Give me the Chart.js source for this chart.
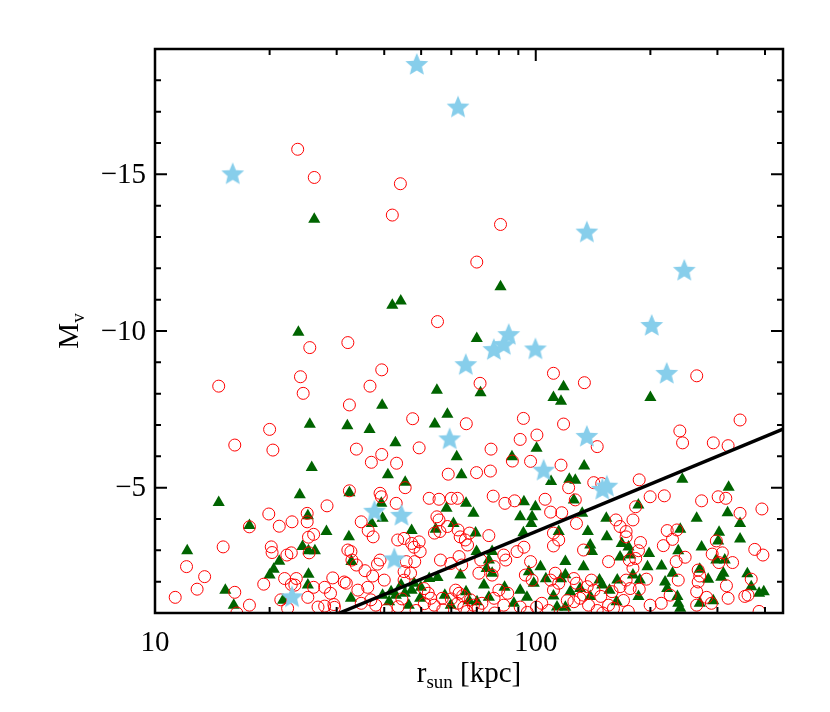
<!DOCTYPE html>
<html><head><meta charset="utf-8">
<script src="https://cdn.jsdelivr.net/npm/chart.js@4/dist/chart.umd.min.js"></script>
<style>html,body{margin:0;padding:0;background:#fff}</style>
</head><body>
<canvas id="c" width="830" height="712"></canvas>
<script>
// ---- data: [r_sun (kpc), M_V] ----
const circles = [
[23.7,-15.8],[26.2,-14.9],[44.1,-14.7],[42.0,-13.7],[80.8,-13.4],[70.0,-12.2],[55.2,-10.3],[32.1,-9.63],[25.5,-9.47],[39.4,-8.76],
[24.1,-8.54],[14.7,-8.24],[36.7,-8.24],[24.5,-8.01],[32.4,-7.64],[47.5,-7.20],[20.0,-6.86],[16.2,-6.36],[20.4,-6.20],[33.8,-6.23],
[39.4,-6.06],[49.4,-6.27],[37.0,-5.81],[43.1,-5.78],[45.4,-5.0],[32.4,-4.9],
[111.3,-8.65],[71.4,-8.33],[134.2,-8.35],[264.7,-8.57],[65.7,-7.04],[92.8,-7.21],[118.3,-7.03],[344,-7.16],[239,-6.81],[243,-6.43],
[292.6,-6.43],[320,-6.34],[91.0,-6.54],[100.7,-6.68],[76.3,-6.23],[145,-6.31],[116.5,-5.72],[96.9,-5.84],[76.0,-5.53],[69.9,-5.48],
[58.9,-5.43],[86.8,-5.85],[142,-5.16],[186.9,-5.25],[122,-5.0],[199.7,-4.71],[217.6,-4.74],[149,-5.13],
[19.9,-4.16],[21.2,-3.77],[22.9,-3.91],[25.1,-3.91],[17.7,-3.75],[25.1,-4.18],[26.1,-3.51],[25.3,-3.42],[15.1,-3.11],[20.2,-3.11],
[20.3,-2.93],[22.2,-2.85],[22.8,-2.92],[25.4,-2.92],[12.1,-2.48],[13.5,-2.16],[12.9,-1.76],[11.3,-1.50],[16.2,-1.66],[17.7,-1.25],
[19.3,-1.92],[21.9,-2.10],[23.5,-2.10],[23.3,-1.89],[22.8,-1.91],[26.1,-1.82],[25.2,-1.50],[21.4,-1.42],[22.3,-1.15],[16.4,-1.0],
[28.3,-4.42],[29.3,-2.12],[28.9,-1.63],[27.9,-1.22],[29.6,-1.18],[31.8,-1.95],[32.1,-3.01],[34.8,-3.91],[37.4,-3.43],[36.3,-3.63],
[39.3,-4.71],[39.0,-4.82],[43.0,-4.50],
[52.5,-4.66],[55.7,-4.63],[60.0,-4.66],[62.3,-4.66],[55.7,-3.97],[55.0,-4.07],[43.4,-3.33],[45.1,-3.38],[47.2,-3.22],[49.4,-3.27],
[49.7,-2.96],[47.9,-3.10],[54.2,-3.55],[56.0,-3.60],[58.6,-3.76],[62.5,-3.65],[63.3,-3.43],[65.3,-3.33],[66.2,-3.17],[67.0,-3.55],
[32.7,-2.96],[32.9,-2.69],[33.8,-2.53],[35.6,-2.35],[37.3,-2.18],[38.4,-2.56],[39.0,-2.69],[45.7,-2.64],[45.1,-2.32],[46.9,-2.27],
[48.1,-2.64],[56.2,-2.69],[59.8,-2.58],[62.9,-2.80],[63.9,-2.53],[31.4,-1.99],[34.1,-1.73],[36.2,-1.82],[40.0,-2.05],[27.9,-1.82],
[36.9,-1.42],[34.8,-1.31],[45.1,-2.05],[50.9,-1.78],[52.2,-1.63],[53.0,-1.47],[54.1,-1.25],[56.8,-1.47],[61.6,-1.73],[62.9,-1.63],
[64.3,-1.55],[67.4,-1.42],[68.6,-1.25],[62.3,-1.31],[64.7,-1.18],[26.8,-1.19],[29.5,-1.27],
[40.5,-1.10],[43.5,-1.20],[48.5,-1.08],[51.0,-1.30],[57.0,-1.10],[60.0,-1.45],[66.0,-1.05],[70.5,-1.15],[44.5,-1.45],[38.0,-1.25],
[77.3,-4.73],[83.0,-4.50],[88.0,-4.58],[105.8,-4.63],[127.0,-4.61],[109.4,-4.22],[117.0,-4.20],[127.9,-3.86],[75.3,-3.47],[111.3,-3.55],
[114.9,-3.33],[111.3,-3.14],[93.1,-3.10],[89.3,-2.96],[133.5,-3.01],[155.3,-2.64],[162.4,-3.97],[166.5,-3.76],[172.7,-3.60],[172.7,-3.43],
[182.9,-4.39],[180.0,-3.97],[176,-2.69],[183,-2.74],[82.4,-2.85],[83.4,-2.69],[71.7,-2.69],[70.9,-2.27],[76.8,-2.21],[77.7,-2.48],
[93.9,-2.21],[97.8,-2.05],[96.9,-2.64],[112.5,-2.27],[109.4,-2.05],[114.9,-1.95],[111.3,-1.73],[125.9,-2.10],[127.9,-1.95],[136.5,-1.84],
[140,-2.05],[133.5,-1.57],[142.2,-1.73],[148.2,-1.53],[158.6,-1.68],[166.5,-1.84],[172.7,-2.05],[177.0,-1.78],[77.7,-1.47],[72.2,-1.31],
[82.4,-1.25],[91.0,-1.19],[100.5,-1.19],[103.7,-1.31],[125.9,-1.36],[130.7,-1.47],[137.6,-1.25],[155.3,-1.25],[84.4,-1.63],[80.0,-1.73],
[78.0,-1.00],[95.0,-1.02],[108.0,-1.08],[118.0,-1.00],[121.0,-1.40],[145.0,-1.08],[150.0,-1.00],[160.0,-1.15],[170.0,-1.40],[175.0,-1.05],
[272.6,-4.58],[301.3,-4.71],[315.6,-4.66],[344,-4.18],[392.6,-4.32],[221.4,-3.63],[234.8,-3.65],[228.6,-3.35],[216.3,-3.15],[188.4,-3.25],
[186.1,-2.99],[298,-3.30],[290.6,-2.88],[309,-2.92],[246.8,-2.78],[233.8,-2.64],[302.6,-2.61],[328.8,-2.61],[376,-3.03],[395,-2.85],
[180,-2.43],[195.3,-2.08],[187,-1.76],[236.7,-2.05],[267,-2.37],[269.6,-2.18],[267,-1.99],[264.6,-1.68],[281,-1.50],[289.3,-1.31],
[264.6,-1.25],[316.8,-1.87],[320,-1.47],[225.4,-1.57],[213.6,-1.31],[199.7,-1.25],[354,-1.53],[361,-1.57],[368,-2.08],[386,-1.05]
];
const triangles = [
[26.2,-13.57],[42.0,-10.82],[44.2,-10.96],[23.8,-9.96],[80.8,-11.41],[55.0,-8.11],[39.5,-7.63],[25.5,-7.02],[32.0,-6.98],[36.6,-6.86],
[54.3,-7.03],[58.6,-7.34],[42.8,-6.43],[25.8,-5.64],[40.9,-5.41],[45.4,-5.17],[14.7,-4.53],[24.0,-4.77],[32.4,-4.84],[12.15,-2.99],[17.7,-3.79],
[70.0,-9.76],[71.6,-8.03],[111.3,-7.88],[118.3,-8.22],[116.5,-7.76],[200.0,-7.88],[100.5,-6.26],[86.6,-5.99],[62.0,-5.99],[63.8,-5.41],
[134.0,-5.69],[109.7,-5.20],[122.5,-5.27],[127.0,-5.24],[242.6,-5.27],[321,-5.01],[186,-4.45],
[25.2,-4.10],[24.4,-3.12],[25.3,-2.99],[26.3,-2.99],[21.2,-2.65],[20.5,-2.40],[20.0,-2.21],[25.3,-2.24],[25.2,-1.89],[15.3,-1.73],[16.1,-1.25],[21.7,-1.41],
[39.3,-4.50],[39.6,-4.02],[37.1,-3.86],[28.2,-3.60],[32.3,-3.43],[47.2,-3.63],[58.3,-4.34],[65.6,-4.50],[60.8,-3.86],[54.6,-3.67],
[68.6,-4.18],[32.8,-2.64],[32.7,-1.47],[39.6,-1.57],[41.2,-1.36],[42.9,-1.57],[45.3,-1.63],[47.2,-1.73],[47.9,-1.95],[46.4,-1.25],
[49.7,-1.47],[49.9,-1.82],[52.5,-2.10],[55.2,-2.13],[57.7,-1.57],[59.8,-1.25],[63.4,-2.21],[65.6,-1.68],[66.8,-1.39],[70.1,-1.36],[44.3,-1.89],[41.7,-1.68],
[93.1,-4.55],[99.8,-4.39],[97.8,-4.07],[97.3,-3.86],[91.0,-4.07],[125.9,-4.61],[132.4,-4.18],[153.2,-4.02],[92.8,-3.56],[114.9,-3.60],
[137.0,-3.60],[139.0,-3.17],[140.5,-2.96],[153.7,-3.43],[168.2,-3.22],[175.2,-3.11],[166.5,-2.79],[177.0,-2.85],[69.5,-3.55],[69.9,-2.96],
[76.8,-2.96],[75.3,-2.69],[74.3,-2.42],[76.8,-2.27],[119.6,-2.64],[119.6,-2.22],[102.9,-2.48],[95.9,-2.32],[106.3,-2.09],[116.5,-2.09],
[133.5,-2.48],[73.1,-1.89],[82.8,-1.82],[91.0,-1.73],[94.8,-1.50],[98.8,-1.95],[111.3,-1.54],[123.2,-1.68],[130.7,-1.78],[139.0,-1.53],
[149.5,-1.89],[147.0,-2.05],[156.2,-1.73],[163.7,-2.05],[163.0,-1.36],[113.7,-1.19],[119.6,-1.18],[87.6,-1.31],[75.3,-1.50],
[264.6,-4.02],[319,-4.20],[344,-3.86],[239.6,-3.67],[303,-3.58],[301.3,-3.30],[344,-3.36],[272.6,-3.11],[236.7,-2.99],[198.4,-2.90],
[196.5,-2.48],[214,-2.50],[228.6,-2.27],[298,-2.69],[313.6,-2.69],[269.6,-2.40],[283.7,-2.08],[307,-2.14],[311,-2.27],[359.5,-2.25],
[368,-1.84],[187.6,-2.05],[218.6,-1.99],[221.4,-1.78],[186.1,-1.53],[235.5,-1.53],[236.7,-1.31],[239.6,-1.15],[269.6,-1.31],[292.5,-1.39],
[386,-1.63],[397,-1.68],[180,-2.21]
];
const stars = [
[48.7,-18.49],[62.5,-17.13],[16.0,-15.0],[136.2,-13.14],[245.5,-11.92],[201.6,-10.16],[84.9,-9.87],[77.6,-9.39],[82.4,-9.55],[99.8,-9.41],
[220.8,-8.63],[65.5,-8.91],[136.2,-6.62],[59.4,-6.54],[104.9,-5.54],[149.6,-4.93],[153.7,-5.03],[37.7,-4.23],[44.4,-4.10],[42.5,-2.71],[22.9,-1.50]
];
const limitLine = [[30.5,-1.0],[446,-6.87]];

const xMajorTicks = [10, 100];
const xMinorTicks = [20,30,40,50,60,70,80,90,200,300,400];
const yMajorTicks = [-15, -10, -5];
const yMinorTicks = [-18,-17,-16,-14,-13,-12,-11,-9,-8,-7,-6,-4,-3,-2];
const xTickLabels = ['10', '100'];
const yTickLabels = ['\u221215', '\u221210', '\u22125'];

// star symbol image
function makeStar(R, color) {
  const s = Math.ceil(R * 2 + 4);
  const cv = document.createElement('canvas');
  cv.width = s; cv.height = s;
  const g = cv.getContext('2d');
  const cx = s / 2, cy = s / 2, r = R * 0.45;
  g.beginPath();
  for (let i = 0; i < 10; i++) {
    const a = -Math.PI / 2 + i * Math.PI / 5;
    const rr = i % 2 === 0 ? R : r;
    const px = cx + rr * Math.cos(a), py = cy + rr * Math.sin(a);
    if (i === 0) g.moveTo(px, py); else g.lineTo(px, py);
  }
  g.closePath();
  g.fillStyle = color;
  g.fill();
  return cv;
}
const starImg = makeStar(12, 'rgb(135,206,235)');

const FONT = '"Liberation Serif", "Times New Roman", serif';

const framePlugin = {
  id: 'idlFrame',
  afterDatasetsDraw(chart) {
    const { ctx, chartArea: a, scales: { x, y } } = chart;
    ctx.save();
    ctx.strokeStyle = '#000';
    ctx.lineWidth = 2;
    ctx.beginPath();
    const tk = (px, len, vertical) => {
      if (vertical) {
        ctx.moveTo(px, a.bottom); ctx.lineTo(px, a.bottom - len);
        ctx.moveTo(px, a.top); ctx.lineTo(px, a.top + len);
      } else {
        ctx.moveTo(a.left, px); ctx.lineTo(a.left + len, px);
        ctx.moveTo(a.right, px); ctx.lineTo(a.right - len, px);
      }
    };
    xMajorTicks.forEach(v => tk(x.getPixelForValue(v), 12, true));
    xMinorTicks.forEach(v => tk(x.getPixelForValue(v), 6, true));
    yMajorTicks.forEach(v => tk(y.getPixelForValue(v), 12, false));
    yMinorTicks.forEach(v => tk(y.getPixelForValue(v), 6, false));
    ctx.stroke();
    ctx.lineWidth = 2.5;
    ctx.strokeRect(a.left, a.top, a.right - a.left, a.bottom - a.top);

    ctx.fillStyle = '#000';
    ctx.font = '29px ' + FONT;
    ctx.textAlign = 'center';
    ctx.textBaseline = 'alphabetic';
    xMajorTicks.forEach((v, i) => ctx.fillText(xTickLabels[i], x.getPixelForValue(v), a.bottom + 38));
    ctx.textAlign = 'right';
    ctx.textBaseline = 'middle';
    yMajorTicks.forEach((v, i) => ctx.fillText(yTickLabels[i], a.left - 9, y.getPixelForValue(v) + 1));

    // x title: r_sun [kpc]
    ctx.textAlign = 'left';
    ctx.textBaseline = 'alphabetic';
    const big = '29px ' + FONT, small = '19px ' + FONT;
    ctx.font = big; const w1 = ctx.measureText('r').width;
    ctx.font = small; const w2 = ctx.measureText('sun').width;
    ctx.font = big; const w3 = ctx.measureText(' [kpc]').width;
    let sx = (a.left + a.right) / 2 - (w1 + w2 + w3) / 2;
    const by = a.bottom + 69;
    ctx.font = big; ctx.fillText('r', sx, by); sx += w1;
    ctx.font = small; ctx.fillText('sun', sx, by + 6); sx += w2;
    ctx.font = big; ctx.fillText(' [kpc]', sx, by);

    // y title: M_v
    ctx.save();
    ctx.translate(78, (a.top + a.bottom) / 2);
    ctx.rotate(-Math.PI / 2);
    ctx.font = big; const m1 = ctx.measureText('M').width;
    ctx.font = small; const m2 = ctx.measureText('v').width;
    let tx = -(m1 + m2) / 2;
    ctx.font = big; ctx.fillText('M', tx, 0); tx += m1;
    ctx.font = small; ctx.fillText('v', tx, 6);
    ctx.restore();
    ctx.restore();
  }
};

const toXY = arr => arr.map(([r, m]) => ({ x: r, y: m }));

new Chart(document.getElementById('c'), {
  type: 'scatter',
  data: {
    datasets: [
      { label: 'line', data: toXY(limitLine), showLine: true, borderColor: '#000', borderWidth: 3.5,
        pointRadius: 0, order: 1, clip: 0 },
      { label: 'stars', data: toXY(stars), pointStyle: starImg, pointRadius: 12, order: 2, clip: 0 },
      { label: 'circles', data: toXY(circles), pointStyle: 'circle', pointRadius: 6,
        backgroundColor: 'rgba(0,0,0,0)', borderColor: 'rgb(255,0,0)', borderWidth: 1, order: 3, clip: 0 },
      { label: 'triangles', data: toXY(triangles), pointStyle: 'triangle', pointRadius: 7,
        backgroundColor: 'rgb(0,100,0)', borderColor: 'rgb(0,100,0)', borderWidth: 0, order: 4, clip: 0 }
    ]
  },
  options: {
    responsive: false,
    animation: false,
    devicePixelRatio: 1,
    layout: { padding: { left: 155, right: 47, top: 49, bottom: 99 } },
    plugins: { legend: { display: false }, tooltip: { enabled: false } },
    scales: {
      x: { type: 'logarithmic', min: 10, max: 446, display: false },
      y: { type: 'linear', min: -19, max: -1, reverse: true, display: false }
    }
  },
  plugins: [framePlugin]
});
</script>
</body></html>
